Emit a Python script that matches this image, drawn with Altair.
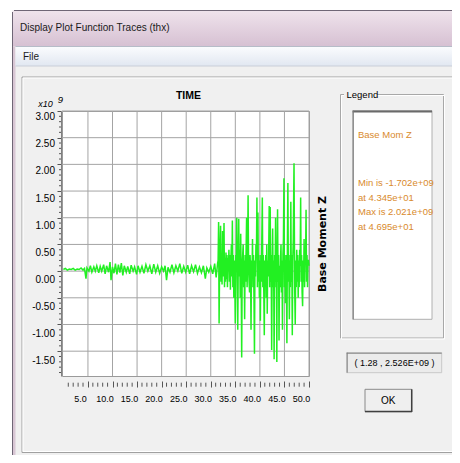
import altair as alt
import pandas as pd

# ---------------- data (Base Moment Z, units of 1e9) ----------------
QUIET = [
    (0.0, 0.03), (0.4, 0.05), (0.8, 0.02), (1.2, 0.04), (1.6, 0.03), (2.0, 0.05),
    (2.4, 0.02), (2.8, 0.04), (3.2, 0.03), (3.6, 0.06), (4.0, 0.02), (4.3, 0.05),
    (4.6, -0.14), (4.8, 0.06), (5.2, 0.00), (5.5, 0.10), (5.8, -0.02), (6.2, 0.08),
    (6.5, 0.00), (6.8, 0.10), (7.2, -0.03), (7.5, 0.09), (7.8, 0.00), (8.2, 0.12),
    (8.5, -0.05), (8.8, 0.10), (9.2, -0.02), (9.5, 0.17), (9.7, -0.17), (10.0, 0.08),
    (10.3, -0.04), (10.6, 0.14), (10.9, -0.06), (11.2, 0.12), (11.5, -0.03), (11.8, 0.15),
    (12.1, -0.08), (12.4, 0.10), (12.8, -0.02), (13.1, 0.09), (13.5, -0.05), (13.8, 0.11),
    (14.2, 0.00), (14.5, 0.08), (14.9, -0.06), (15.2, 0.10), (15.6, -0.02), (16.0, 0.09),
    (16.4, -0.04), (16.8, 0.12), (17.2, 0.00), (17.6, 0.10), (18.0, -0.05), (18.4, 0.13),
    (18.8, -0.02), (19.2, 0.10), (19.6, -0.04), (20.0, 0.08), (20.4, 0.00), (20.7, 0.10),
    (21.0, -0.17), (21.3, 0.07), (21.7, -0.02), (22.1, 0.12), (22.5, -0.03), (22.9, 0.10),
    (23.3, 0.00), (23.7, 0.14), (24.1, -0.04), (24.5, 0.09), (24.9, -0.02), (25.3, 0.11),
    (25.7, -0.05), (26.1, 0.10), (26.5, -0.01), (26.9, 0.12), (27.3, -0.04), (27.7, 0.08),
    (28.1, -0.03), (28.5, 0.10), (28.9, -0.14), (29.2, 0.06), (29.6, -0.02), (30.0, 0.09),
    (30.4, -0.05), (30.8, 0.14), (31.1, -0.12), (31.4, 0.15),
]
STRONG = [
    (31.5, 0.20), (31.6, 0.92), (31.7, -0.98), (31.8, 0.10), (31.9, 0.50), (32.0, 0.85),
    (32.1, -0.20), (32.2, 0.30), (32.3, -0.25), (32.4, 0.75), (32.5, -0.10), (32.6, 0.20),
    (32.7, 0.90), (32.8, -0.30), (32.9, 0.25), (33.0, -0.20), (33.1, 0.35), (33.2, -0.15),
    (33.3, 0.30), (33.4, -0.30), (33.5, 0.25), (33.6, 0.00), (33.7, 0.40), (33.8, -0.20),
    (33.9, 0.30), (34.0, -0.35), (34.1, 0.20), (34.2, 0.50), (34.3, -0.10), (34.4, 0.95),
    (34.5, -0.30), (34.6, 0.30), (34.7, -0.50), (34.8, 0.20), (34.9, -0.20), (35.0, -0.98),
    (35.1, 0.30), (35.2, 0.10), (35.3, 1.00), (35.4, -0.20), (35.5, -1.10), (35.6, 0.20),
    (35.7, 0.98), (35.8, -0.10), (35.9, 0.40), (36.0, -0.50), (36.1, 0.70), (36.2, -0.20),
    (36.3, -1.62), (36.4, 0.10), (36.5, 0.30), (36.6, 0.50), (36.7, -0.30), (36.8, 0.20),
    (36.9, -0.90), (37.0, 0.30), (37.1, -0.20), (37.2, 0.40), (37.3, 1.00), (37.4, -0.30),
    (37.5, 0.20), (37.6, 1.42), (37.7, 0.10), (37.8, -0.20), (37.9, -0.40), (38.0, 0.30),
    (38.1, 0.00), (38.2, -1.10), (38.3, 0.20), (38.4, -0.10), (38.5, 0.60), (38.6, -0.30),
    (38.7, 0.30), (38.8, -0.50), (38.9, -1.55), (39.0, 0.20), (39.1, -0.10), (39.2, 0.50),
    (39.3, 0.30), (39.4, 1.38), (39.5, -0.30), (39.6, 1.10), (39.7, -0.20), (39.8, 0.30),
    (39.9, -0.50), (40.0, 0.20), (40.1, -0.93), (40.2, 0.30), (40.3, -0.20), (40.4, 0.60),
    (40.5, 1.38), (40.6, -0.30), (40.7, 0.30), (40.8, -0.40), (40.9, -1.20), (41.0, 0.20),
    (41.1, -0.20), (41.2, 0.30), (41.3, -0.50), (41.4, 0.50), (41.5, -0.80), (41.6, 0.20),
    (41.7, -0.10), (41.8, 0.40), (41.9, 1.22), (42.0, -0.30), (42.1, 1.20), (42.2, -0.20),
    (42.3, 0.30), (42.4, -1.48), (42.5, 0.10), (42.6, 0.80), (42.7, -0.30), (42.8, 0.20),
    (42.9, -1.65), (43.0, 0.30), (43.1, -0.20), (43.2, 1.00), (43.3, -0.30), (43.37, 0.20),
    (43.45, -1.702), (43.52, 0.20), (43.6, 1.16), (43.7, -0.20), (43.8, 0.30), (43.9, -1.30),
    (44.0, 0.10), (44.1, -0.30), (44.2, 0.20), (44.3, 0.50), (44.4, -0.40), (44.5, 0.20),
    (44.6, -1.10), (44.7, 0.30), (44.8, 0.60), (44.9, 1.74), (45.0, -0.30), (45.1, 0.20),
    (45.2, -0.60), (45.3, 0.30), (45.4, -0.20), (45.5, -1.35), (45.6, 0.40), (45.7, 1.65),
    (45.8, -0.20), (45.9, 0.30), (46.0, -0.90), (46.1, 0.20), (46.2, -0.30), (46.3, 1.30),
    (46.4, -0.20), (46.5, 0.30), (46.6, -1.20), (46.7, 0.20), (46.8, 0.60), (46.95, 2.021),
    (47.05, 0.30), (47.1, -0.40), (47.2, -1.00), (47.3, 0.20), (47.4, -0.30), (47.5, 0.40),
    (47.6, -0.20), (47.7, 0.30), (47.8, -0.50), (47.9, 0.20), (48.0, -0.30), (48.1, 0.40),
    (48.2, 0.10), (48.3, 1.38), (48.4, -0.20), (48.5, 0.30), (48.6, -0.40), (48.7, -0.66),
    (48.8, 0.20), (48.9, -0.20), (49.0, 0.60), (49.1, -0.30), (49.2, 0.30), (49.3, 0.20),
    (49.4, 1.15), (49.5, -0.20), (49.6, 0.30), (49.7, -0.30), (49.8, 0.20), (49.9, 0.20),
    (50.0, 0.10),
]

X_TICKS = [5, 10, 15, 20, 25, 30, 35, 40, 45, 50]
Y_TICKS = [-1.5, -1.0, -0.5, 0.0, 0.5, 1.0, 1.5, 2.0, 2.5, 3.0]
Y_LABELS = ["-1.50", "-1.00", "-0.50", "0.00", "0.50", "1.00", "1.50", "2.00", "2.50", "3.00"]
X_MINOR = [t for t in range(1, 50) if t % 5]
Y_MINOR = [round(-1.9 + 0.1 * i, 1) for i in range(49) if round((-1.9 + 0.1 * i) * 10) % 5]

WINDOW_TITLE = "Display Plot Function Traces  (thx)"
MENU = "File"
PLOT_TITLE = "TIME"
Y_TITLE = "Base Moment Z"
LEGEND_TITLE = "Legend"
LEGEND_NAME = "Base Mom Z"
LEGEND_STATS = ["Min is -1.702e+09", "at 4.345e+01", "Max is 2.021e+09", "at 4.695e+01"]
CURSOR = "( 1.28 , 2.526E+09 )"
BUTTON = "OK"

# ---------------- style ----------------
NARROW = "Liberation Sans Narrow, Liberation Sans, Arial, sans-serif"
SANS = "Liberation Sans, Arial, sans-serif"
GREEN = "#22f022"
ORANGE = "#d98a2c"
GRID = "#a4a4a4"

W, H = 247, 265
PX0, PY0 = 62, 111  # page position of plot origin


def rx(px):
    return px - PX0


def ry(py):
    return py - PY0


ONE = pd.DataFrame({"k": [0]})


def box(x1, y1, x2, y2, **mk):
    return alt.Chart(ONE).mark_rect(**mk).encode(
        x=alt.value(rx(x1)), x2=alt.value(rx(x2)), y=alt.value(ry(y1)), y2=alt.value(ry(y2)))


def hline(x1, x2, y, color, w=1):
    return alt.Chart(ONE).mark_rule(color=color, strokeWidth=w).encode(
        x=alt.value(rx(x1)), x2=alt.value(rx(x2)), y=alt.value(ry(y)))


def vline(x, y1, y2, color, w=1):
    return alt.Chart(ONE).mark_rule(color=color, strokeWidth=w).encode(
        x=alt.value(rx(x)), y=alt.value(ry(y1)), y2=alt.value(ry(y2)))


def label(px, py, text, size=11, font=NARROW, align="left", color="black", **mk):
    return alt.Chart(ONE).mark_text(text=text, fontSize=size, font=font, align=align,
                                    baseline="middle", color=color, **mk).encode(
        x=alt.value(rx(px)), y=alt.value(ry(py)))


def grad(c1, c2):
    return alt.LinearGradient(gradient="linear", x1=0, x2=0, y1=0, y2=1,
                              stops=[alt.GradientStop(offset=0, color=c1),
                                     alt.GradientStop(offset=1, color=c2)])


XS = alt.Scale(domain=[-0.28, 50], nice=False, zero=False)
YS = alt.Scale(domain=[-1.965, 3.0], nice=False, zero=False)
X_AXIS = alt.Axis(values=X_TICKS, format=".1f", title=None, grid=False, domain=False,
                  offset=5, tickSize=6, tickColor="#555555", labelFont=NARROW,
                  labelFontSize=9, labelColor="black", labelPadding=7.5, labelOffset=-8,
                  labelFlush=False, labelOverlap=False)
Y_AXIS = alt.Axis(values=Y_TICKS, title=None, grid=False, labels=False, domain=True,
                  domainColor="#808080", offset=1, tickSize=4, tickColor="#555555")

trace_df = pd.DataFrame(QUIET + STRONG, columns=["t", "v"])

# ---------------- window decoration ----------------
decor = [
    box(8, 8, 452, 10.5, fill="white"),
    box(8, 8, 12.5, 455, fill="white"),
    box(12.5, 10.5, 452, 46.5, fill=grad("#efe3ec", "#d6c0d2")),
    box(12.5, 46.5, 15.5, 455, fill="#d8c6d4"),
    vline(12.5, 12, 455, "#6f6676"),
    hline(14, 452, 10.5, "#6f6676"),
    box(15.5, 46.5, 452, 66, fill=grad("#fbfcfe", "#e1e7f1")),
    hline(15.5, 452, 46.5, "#b6bcc8"),
    hline(15.5, 452, 66, "#c9ced8"),
    box(22, 77, 458, 452.5, fillOpacity=0, stroke="#a0a0a0", strokeWidth=1),
    box(23, 78, 458, 451.5, fillOpacity=0, stroke="white", strokeWidth=1),
    label(20, 28, WINDOW_TITLE, size=10, color="#1a1a1a"),
    label(23, 56.5, MENU, size=10, color="#1a1a1a"),
    # legend group
    box(340.5, 94.5, 443.5, 338, fillOpacity=0, stroke="#a8a8a8", strokeWidth=1),
    box(341.5, 95.5, 444.5, 339, fillOpacity=0, stroke="white", strokeWidth=1),
    box(344, 88, 377, 101, fill="#f0f0f0"),
    label(346.5, 95, LEGEND_TITLE, size=9.5),
    box(352.7, 110.7, 432, 319.3, fill="white", stroke="#b0b0b0", strokeWidth=1),
    hline(352.7, 432, 111.5, "#6a6a6a", 2),
    vline(353.3, 110.7, 319.3, "#7a7a7a", 1),
    label(358, 135, LEGEND_NAME, size=9.5, color=ORANGE),
] + [label(358, y, s, size=9.5, color=ORANGE)
     for y, s in zip([183.3, 197.8, 212.3, 226.8], LEGEND_STATS)] + [
    # cursor read-out
    box(346.7, 352.7, 441.7, 372.7, fill="#ebebeb", stroke="#c8c8c8", strokeWidth=1),
    hline(346.7, 441.7, 353.2, "#808080"),
    vline(347.2, 352.7, 372.7, "#808080"),
    label(394.5, 362.7, CURSOR, size=9, align="center"),
    # OK button
    box(365, 389.3, 411.7, 411.7, fill="#efefef", stroke="#8a8a8a", strokeWidth=1),
    hline(365, 412, 411.5, "#404040", 1.5),
    vline(411.7, 389.3, 412, "#404040", 1.5),
    label(388.3, 400.5, BUTTON, size=10, align="center"),
    # plot texts
    label(188.5, 95.5, PLOT_TITLE, size=10.5, font=SANS, align="center", fontWeight="bold"),
    label(45.5, 103.5, "x10", size=9, align="center", fontStyle="italic"),
    label(60.3, 99.5, "9", size=9.5, align="center", fontStyle="italic"),
    label(322.5, 244, Y_TITLE, size=11, font="DejaVu Sans, sans-serif", align="center",
          fontWeight="bold", angle=270),
]

# ---------------- plot ----------------
grid_x = alt.Chart(pd.DataFrame({"t": X_TICKS})).mark_rule(color=GRID, strokeWidth=1).encode(
    x=alt.X("t:Q", scale=XS, axis=X_AXIS))
grid_y = alt.Chart(pd.DataFrame({"v": Y_TICKS})).mark_rule(color=GRID, strokeWidth=1).encode(
    y=alt.Y("v:Q", scale=YS, axis=Y_AXIS))
minor_x = alt.Chart(pd.DataFrame({"t": X_MINOR})).mark_rule(color="#555555", strokeWidth=1).encode(
    x=alt.X("t:Q", scale=XS, axis=X_AXIS), y=alt.value(271.7), y2=alt.value(275.7))
minor_y = alt.Chart(pd.DataFrame({"v": Y_MINOR})).mark_rule(color="#555555", strokeWidth=1).encode(
    y=alt.Y("v:Q", scale=YS, axis=Y_AXIS), x=alt.value(-3), x2=alt.value(-1))
trace = alt.Chart(trace_df).mark_line(color=GREEN, strokeWidth=1.5).encode(
    x=alt.X("t:Q", scale=XS, axis=X_AXIS), y=alt.Y("v:Q", scale=YS, axis=Y_AXIS))
ylabels = alt.Chart(pd.DataFrame({"v": Y_TICKS, "lab": Y_LABELS})).transform_calculate(
    vy="datum.v - (6.1 + (3 - datum.v) * 0.9) / 53.4"
).mark_text(align="right", baseline="middle", font=NARROW, fontSize=10, color="black").encode(
    y=alt.Y("vy:Q", scale=YS, axis=Y_AXIS), x=alt.value(-7), text="lab:N")

chart = alt.layer(*decor, grid_x, grid_y, minor_x, minor_y, trace, ylabels).properties(
    width=W, height=H,
    autosize=alt.AutoSizeParams(type="none"),
    padding={"left": 54, "top": 103, "right": 143, "bottom": 79},
    background="#f0f0f0",
).configure_view(fill="white", stroke="#9a9a9a", strokeWidth=1)

chart.save("out.html", embed_options={"renderer": "svg", "actions": False})
